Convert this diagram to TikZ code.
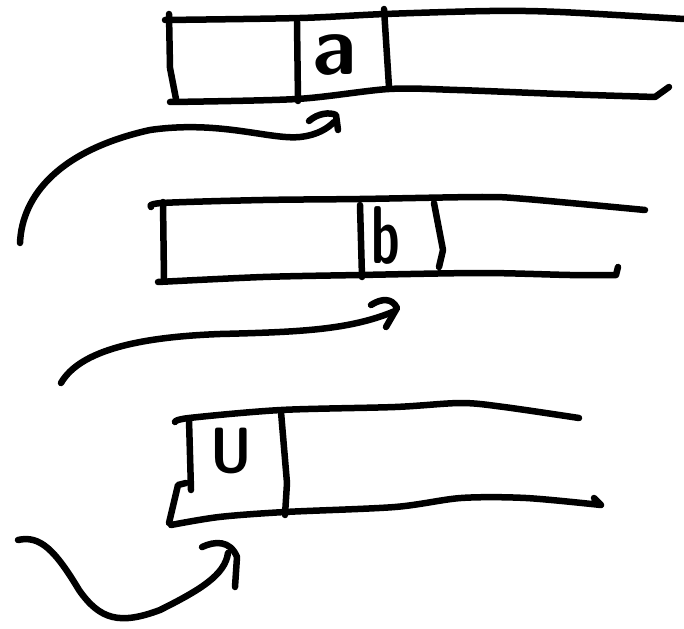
\documentclass[tikz,border=0pt]{standalone}
\usepackage{tikz}
\definecolor{tinta}{HTML}{000000}

\tikzset{
  trazo/.style={tinta,line width=6.5pt,line cap=round,line join=round},
  letra/.style={tinta,font=\sffamily\bfseries\fontsize{#1}{#1}\selectfont,inner sep=0pt}
}

\begin{document}
\begin{tikzpicture}[x=1pt,y=-1pt]
  \useasboundingbox (0,0) rectangle (684,628);
  % tira de arriba
  \draw[trazo] plot[smooth] coordinates {(165,20) (300,18) (385,14) (490,11) (560,12) (684,19)};
  \draw[trazo] (169,14) -- (170,68) -- (176,99);
  \draw[trazo] plot[smooth] coordinates {(170,102) (297,99) (389,89) (457,90) (560,94) (655,97)} -- (669,87);
  \draw[trazo] (297,22) -- (298,101);
  \draw[trazo] (384,9) -- (389,87);
  \node[letra=84] (letraA) at (335,55) {a};
  % tira del medio
  \draw[trazo] plot[smooth] coordinates {(151,207) (162,203) (263,200) (360,199) (482,197) (526,199) (645,210)};
  \draw[trazo] (163,202) -- (164,280);
  \draw[trazo] plot[smooth] coordinates {(158,282) (263,277) (360,275) (482,273) (570,275) (616,275)} -- (618,267);
  \draw[trazo] (360,205) -- (362,277);
  \draw[trazo] (434,203) -- (443,250) -- (439,267);
  \node[letra=82,xscale=0.62] (letraB) at (386,235) {b};
  % tira de abajo
  \draw[trazo] plot[smooth] coordinates {(175,422) (189,418) (281,410) (395,407) (461,403) (504,407) (579,418)};
  \draw[trazo] (189,420) -- (191,490);
  \draw[trazo] (186,483) -- (178,485) -- (169,523);
  \draw[trazo] plot[smooth] coordinates {(171,525) (219,517) (285,512) (395,507) (461,498) (526,498) (601,505)} -- (594,498);
  \draw[trazo] (281,412) -- (287,483) -- (285,515);
  \node[letra=64,xscale=0.85] (letraU) at (231,451) {U};
  % flechas
  \coordinate (colaA) at (20,243);
  \coordinate (puntaA) at (334,122);
  \coordinate (colaB) at (61,383);
  \coordinate (puntaB) at (395,311);
  \coordinate (colaU) at (18,540);
  \coordinate (puntaU) at (228,553);
  \draw[trazo] (colaA) .. controls (22,195) and (60,150) .. (150,130)
    .. controls (220,120) and (270,140) .. (300,137)
    .. controls (318,135) and (328,128) .. (puntaA);
  \draw[trazo] (309,121) .. controls (318,113) and (330,112) .. (336,115) -- (338,130);
  \draw[trazo] (colaB) .. controls (80,350) and (140,337) .. (220,334)
    .. controls (300,332) and (350,330) .. (puntaB);
  \draw[trazo] (371,305) .. controls (382,298) and (392,298) .. (397,308) -- (386,327);
  \draw[trazo] (colaU) .. controls (40,535) and (55,550) .. (79,590)
    .. controls (100,620) and (120,625) .. (160,610)
    .. controls (200,590) and (225,575) .. (puntaU);
  \draw[trazo] (202,547) .. controls (215,541) and (230,540) .. (237,557) -- (235,587);
\end{tikzpicture}
\end{document}
